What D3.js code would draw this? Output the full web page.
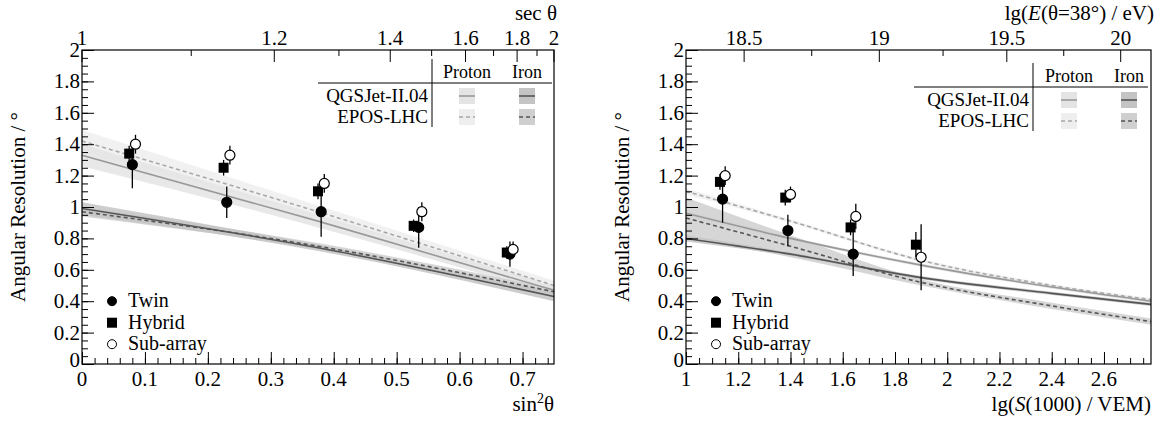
<!DOCTYPE html>
<html><head><meta charset="utf-8">
<script src="https://cdn.jsdelivr.net/npm/d3@7"></script>
<style>body{margin:0;background:#fff}svg text{font-family:"Liberation Serif","Times New Roman","DejaVu Serif",serif;fill:#000}</style>
</head><body><svg id="c" width="1158" height="432"></svg>
<script>
// ---- left panel data (sin^2 theta) ----
const leftTwin = [[0.08,1.27,0.15],[0.23,1.03,0.10],[0.38,0.97,0.16],[0.535,0.87,0.13],[0.68,0.70,0.08]];
const leftHybrid = [[0.075,1.34,0.05],[0.225,1.25,0.05],[0.375,1.10,0.05],[0.527,0.88,0.04],[0.675,0.71,0.04]];
const leftSub = [[0.085,1.40,0.06],[0.235,1.33,0.06],[0.385,1.15,0.06],[0.54,0.97,0.06],[0.685,0.73,0.05]];
// model curves: [x, value, band half-width]
const leftQgsP = [[0,1.33,0.07],[0.375,0.91,0.04],[0.75,0.47,0.03]];
const leftEposP = [[0,1.42,0.07],[0.375,0.97,0.04],[0.75,0.50,0.03]];
const leftQgsFe = [[0,0.99,0.04],[0.375,0.74,0.02],[0.75,0.43,0.03]];
const leftEposFe = [[0,0.97,0.03],[0.375,0.75,0.02],[0.75,0.46,0.02]];
const secTicks = [1,1.2,1.4,1.6,1.8,2];
// ---- right panel data (lg S(1000)) ----
const rightTwin = [[1.14,1.05,0.15],[1.39,0.85,0.10],[1.64,0.70,0.14]];
const rightHybrid = [[1.13,1.16,0.05],[1.38,1.06,0.05],[1.63,0.87,0.05],[1.88,0.76,0.08]];
const rightSub = [[1.15,1.20,0.06],[1.40,1.08,0.05],[1.65,0.94,0.08],[1.90,0.68,0.21]];
const rightQgsP = [[1,0.96,0.02],[1.4,0.80,0.01],[1.9,0.63,0.01],[2.4,0.49,0.01],[2.78,0.40,0.01]];
const rightEposP = [[1,1.10,0.02],[1.4,0.91,0.01],[1.9,0.66,0.01],[2.4,0.50,0.01],[2.78,0.41,0.01]];
const rightQgsFe = [[1,0.80,0.02],[1.4,0.70,0.01],[1.9,0.55,0.01],[2.4,0.45,0.01],[2.78,0.38,0.01]];
const rightEposFe = [[1,0.93,0.13],[1.4,0.75,0.07],[1.9,0.52,0.02],[2.4,0.37,0.02],[2.78,0.27,0.02]];
const energyTicks = [18.5,19,19.5,20];
const energyAtLgS = [1.2225,1.740,2.228,2.664];

const svg = d3.select("#c");
const FONT = '"Liberation Serif","Times New Roman","DejaVu Serif",serif';

function panel(o) {
  const g = svg.append("g");
  const x = d3.scaleLinear().domain(o.xd).range([o.x0, o.x1]);
  const y = d3.scaleLinear().domain([0, 2]).range([o.y1, o.y0]);
  const txt = (sel) => sel.attr("font-family", FONT);
  // bands and lines
  const models = [
    {d: o.eposP, fill: "#eeeeee", stroke: "#a8a8a8", dash: "4,3"},
    {d: o.qgsP, fill: "#e4e4e4", stroke: "#999", dash: null},
    {d: o.eposFe, fill: "#cfcfcf", stroke: "#555", dash: "4,3"},
    {d: o.qgsFe, fill: "#c4c4c4", stroke: "#555", dash: null}
  ];
  const cv = d3.curveMonotoneX;
  models.forEach(m => {
    g.append("path").datum(m.d)
      .attr("d", d3.area().curve(cv).x(d => x(d[0])).y0(d => y(d[1] - d[2])).y1(d => y(d[1] + d[2])))
      .attr("fill", m.fill).attr("opacity", 0.85);
  });
  models.forEach(m => {
    g.append("path").datum(m.d)
      .attr("d", d3.line().curve(cv).x(d => x(d[0])).y(d => y(d[1])))
      .attr("fill", "none").attr("stroke", m.stroke).attr("stroke-width", 1.6)
      .attr("stroke-dasharray", m.dash);
  });
  // points
  const pts = [[o.twin, "c", true], [o.hybrid, "s", true], [o.sub, "c", false]];
  pts.forEach(([data, shape, filled]) => {
    data.forEach(d => {
      g.append("line").attr("x1", x(d[0])).attr("x2", x(d[0]))
        .attr("y1", y(d[1] - d[2])).attr("y2", y(d[1] + d[2])).attr("stroke", "#000").attr("stroke-width", 1.3);
      if (shape === "c") g.append("circle").attr("cx", x(d[0])).attr("cy", y(d[1])).attr("r", 5)
        .attr("fill", filled ? "#000" : "#fff").attr("stroke", "#000").attr("stroke-width", 1.2);
      else g.append("rect").attr("x", x(d[0]) - 5).attr("y", y(d[1]) - 5).attr("width", 10).attr("height", 10).attr("fill", "#000");
    });
  });
  // frame
  g.append("rect").attr("x", o.x0).attr("y", o.y0).attr("width", o.x1 - o.x0).attr("height", o.y1 - o.y0)
    .attr("fill", "none").attr("stroke", "#000").attr("stroke-width", 1.2);
  // axes
  const fs = "21px";
  g.append("g").attr("transform", `translate(0,${o.y1})`)
    .call(d3.axisTop(x).tickValues(o.xMinor).tickSize(6).tickFormat(""));
  g.append("g").attr("transform", `translate(0,${o.y1})`)
    .call(d3.axisTop(x).tickValues(o.xMajor).tickSize(12).tickFormat(""));
  o.xMajor.forEach(v => txt(g.append("text")).attr("x", x(v)).attr("y", o.y1 + 22).attr("text-anchor", "middle")
    .style("font-size", fs).text(d3.format("~g")(v)));
  g.append("g").attr("transform", `translate(${o.x0},0)`)
    .call(d3.axisRight(y).tickValues(d3.range(0, 2.001, 0.05)).tickSize(6).tickFormat(""));
  g.append("g").attr("transform", `translate(${o.x0},0)`)
    .call(d3.axisRight(y).tickValues(d3.range(0, 2.001, 0.2)).tickSize(12).tickFormat(""));
  d3.range(0, 2.001, 0.2).forEach((v, i) => txt(g.append("text")).attr("x", o.x0 - 2).attr("y", y(v) + (i === 0 ? 3 : 7))
    .attr("text-anchor", "end").style("font-size", fs).text(d3.format("~g")(+v.toFixed(1))));
  g.selectAll(".domain").remove();
  g.selectAll(".tick line").attr("stroke", "#000");
  // top axis
  o.topMinor.forEach(v => g.append("line").attr("x1", v).attr("x2", v).attr("y1", o.y0).attr("y2", o.y0 + 6).attr("stroke", "#000"));
  o.topMajor.forEach(t => {
    g.append("line").attr("x1", t.px).attr("x2", t.px).attr("y1", o.y0).attr("y2", o.y0 + 12).attr("stroke", "#000");
    txt(g.append("text")).attr("x", t.px).attr("y", o.y0 - 5).attr("text-anchor", "middle").style("font-size", fs).text(t.label);
  });
  // titles
  txt(g.append("text")).attr("transform", `translate(${o.x0 - 57},${(o.y0 + o.y1) / 2}) rotate(-90)`)
    .attr("text-anchor", "middle").style("font-size", "21px").text("Angular Resolution / °");
  txt(g.append("text")).attr("x", o.x1).attr("y", o.y1 + 47).attr("text-anchor", "end").style("font-size", "21px").html(o.xTitle);
  txt(g.append("text")).attr("x", o.x1 + 3).attr("y", o.y0 - 30).attr("text-anchor", "end").style("font-size", "21px").html(o.topTitle);
  // marker legend
  const ly = y(0.4);
  [["Twin", "c", true], ["Hybrid", "s", true], ["Sub-array", "c", false]].forEach(([n, s, f], i) => {
    const yy = ly + i * 21.5, xx = o.x0 + 30;
    if (s === "c") g.append("circle").attr("cx", xx).attr("cy", yy).attr("r", 4.5).attr("fill", f ? "#000" : "#fff").attr("stroke", "#000");
    else g.append("rect").attr("x", xx - 5).attr("y", yy - 5).attr("width", 10).attr("height", 10).attr("fill", "#000");
    txt(g.append("text")).attr("x", xx + 16).attr("y", yy + 6).style("font-size", "20px").text(n);
  });
  // model table legend
  const L = o.tab;
  g.append("line").attr("x1", L.x0).attr("x2", L.x1).attr("y1", L.hy).attr("y2", L.hy).attr("stroke", "#000");
  g.append("line").attr("x1", L.vx).attr("x2", L.vx).attr("y1", L.hy - 24).attr("y2", L.hy + 44).attr("stroke", "#000");
  [["Proton", L.pc], ["Iron", L.fc]].forEach(([t, cx]) =>
    txt(g.append("text")).attr("x", cx).attr("y", L.hy - 5).attr("text-anchor", "middle").style("font-size", "18px").text(t));
  [["QGSJet-II.04", null, models[1], models[3]], ["EPOS-LHC", "4,3", models[0], models[2]]].forEach(([t, dash, mp, mf], i) => {
    const ry = L.hy + 13 + i * 21;
    txt(g.append("text")).attr("x", L.vx - 4).attr("y", ry + 6).attr("text-anchor", "end").style("font-size", "19px").text(t);
    [[L.pc, mp], [L.fc, mf]].forEach(([cx, m]) => {
      g.append("rect").attr("x", cx - 8).attr("y", ry - 8).attr("width", 16).attr("height", 16).attr("fill", m.fill);
      g.append("line").attr("x1", cx - 8).attr("x2", cx + 8).attr("y1", ry).attr("y2", ry)
        .attr("stroke", m.stroke).attr("stroke-width", 1.6).attr("stroke-dasharray", dash);
    });
  });
}

// left panel: top axis sec theta -> sin^2 = 1 - 1/sec^2
const xl = d3.scaleLinear().domain([0, 0.75]).range([82, 554]);
const s2 = s => 1 - 1 / (s * s);
panel({
  x0: 82, x1: 554, y0: 50, y1: 364, xd: [0, 0.75],
  xMajor: d3.range(0, 0.71, 0.1).map(v => +v.toFixed(1)), xMinor: d3.range(0, 0.751, 0.02),
  twin: leftTwin, hybrid: leftHybrid, sub: leftSub,
  qgsP: leftQgsP, eposP: leftEposP, qgsFe: leftQgsFe, eposFe: leftEposFe,
  topMajor: secTicks.map(s => ({px: xl(s2(s)), label: d3.format("~g")(s)})),
  topMinor: d3.range(1.1, 2, 0.2).map(s => xl(s2(s))),
  xTitle: 'sin<tspan dy="-8" font-size="14">2</tspan><tspan dy="8">θ</tspan>',
  topTitle: "sec θ",
  tab: {x0: 318, x1: 552, hy: 83, vx: 432, pc: 467, fc: 527}
});

// right panel: top axis lg E, positioned at measured lg S values
const xr = d3.scaleLinear().domain([1, 2.78]).range([686, 1151]);
const eToS = d3.scaleLinear().domain(energyTicks).range(energyAtLgS);
panel({
  x0: 686, x1: 1151, y0: 50, y1: 364, xd: [1, 2.78],
  xMajor: d3.range(1, 2.61, 0.2).map(v => +v.toFixed(1)), xMinor: d3.range(1, 2.781, 0.05),
  twin: rightTwin, hybrid: rightHybrid, sub: rightSub,
  qgsP: rightQgsP, eposP: rightEposP, qgsFe: rightQgsFe, eposFe: rightEposFe,
  topMajor: energyTicks.map(e => ({px: xr(eToS(e)), label: d3.format("~g")(e)})),
  topMinor: [18.75, 19.25, 19.75].map(e => xr(eToS(e))),
  xTitle: 'lg(<tspan font-style="italic">S</tspan>(1000) / VEM)',
  topTitle: 'lg(<tspan font-style="italic">E</tspan>(θ=38°) / eV)',
  tab: {x0: 914, x1: 1148, hy: 87, vx: 1033, pc: 1069, fc: 1129}
});
</script></body></html>
